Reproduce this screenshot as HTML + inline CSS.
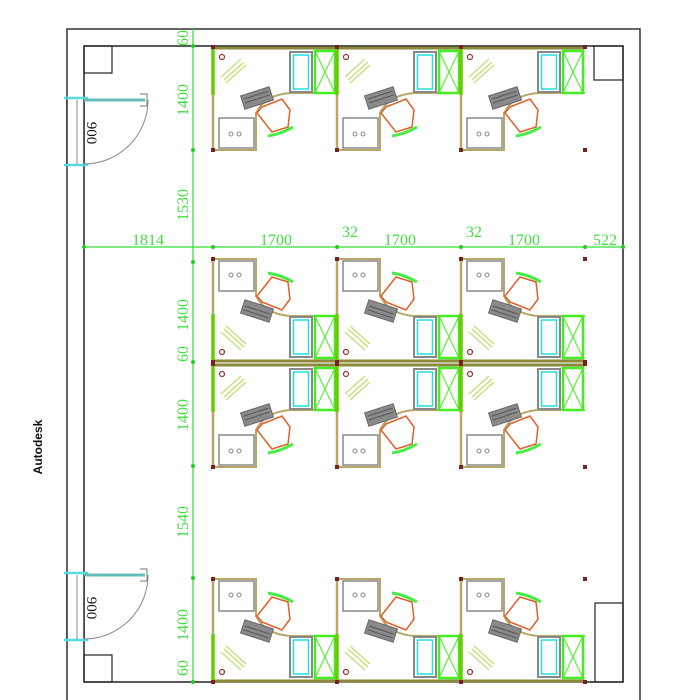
<!DOCTYPE html>
<html><head><style>html,body{margin:0;padding:0;background:#fff}svg{display:block}</style></head>
<body>
<svg width="700" height="700" viewBox="0 0 700 700" xmlns="http://www.w3.org/2000/svg" font-family="Liberation Serif, serif">
<defs>
<g id="cell">
  <line x1="0" y1="1" x2="124" y2="1" stroke="#8a8a3a" stroke-width="3"/>
  <line x1="0" y1="0" x2="0" y2="48" stroke="#66cc00" stroke-width="3.5"/>
  <line x1="0" y1="48" x2="0" y2="103" stroke="#b8a868" stroke-width="2.5"/>
  <path d="M124,46 L77,46 Q52,48 43,66 L43,103 L0,103" fill="none" stroke="#b8a868" stroke-width="2"/>
  <rect x="77" y="5" width="22" height="40" fill="#fff" stroke="#888" stroke-width="2"/>
  <rect x="80.5" y="8" width="15" height="34" fill="none" stroke="#22dddd" stroke-width="1.5"/>
  <rect x="102" y="4" width="20" height="42" fill="#fff" stroke="#44ee22" stroke-width="2.5"/>
  <path d="M102,4 L122,46 M122,4 L102,46" stroke="#44ee22" stroke-width="1"/>
  <rect x="6" y="71" width="35" height="30" fill="#fff" stroke="#888" stroke-width="1.5"/>
  <circle cx="18" cy="87" r="2" fill="none" stroke="#888"/>
  <circle cx="26" cy="87" r="2" fill="none" stroke="#888"/>
  <circle cx="9" cy="10" r="2.5" fill="none" stroke="#993333" stroke-width="1.2"/>
  <path d="M8,30 L28,12 M11,33 L31,15 M13,36 L33,18" stroke="#c8e080" stroke-width="1.5"/>
  <g transform="translate(44,51) rotate(-18)">
    <rect x="-15" y="-7" width="30" height="14" fill="#8a8a8a" stroke="#666"/>
    <path d="M-13,-3 H13 M-13,1 H13" stroke="#555" stroke-width="1"/>
  </g>
  <path d="M49,60 L69,52 L77,63 L75,80 L59,85 L44,66 Z" fill="#fff" stroke="#e0602a" stroke-width="1.5"/>
  <path d="M55,89 Q68,87 80,80" fill="none" stroke="#44ee44" stroke-width="3"/>
  <rect x="-2" y="-2" width="4" height="4" fill="#772222"/>
  <rect x="122" y="-2" width="4" height="4" fill="#772222"/>
  <rect x="-2" y="101" width="4" height="4" fill="#772222"/>
  <rect x="122" y="101" width="4" height="4" fill="#772222"/>
</g>
</defs>
<!-- walls -->
<path d="M67,700 V29 H640 V700" fill="none" stroke="#333" stroke-width="1.5"/>
<path d="M84,46 H623 V682 H84 Z" fill="none" stroke="#222" stroke-width="1.5"/>
<rect x="84" y="46" width="28" height="27" fill="none" stroke="#222" stroke-width="1.2"/>
<rect x="594" y="46" width="29" height="34" fill="none" stroke="#222" stroke-width="1.2"/>
<rect x="84" y="655" width="28" height="27" fill="none" stroke="#222" stroke-width="1.2"/>
<rect x="595" y="603" width="28" height="79" fill="none" stroke="#222" stroke-width="1.2"/>
<!-- doors -->
<g id="door">
  <rect x="67" y="99" width="17" height="66" fill="#fff"/>
  <line x1="67" y1="99" x2="67" y2="165" stroke="#333" stroke-width="1.5"/>
  <line x1="84" y1="99" x2="84" y2="165" stroke="#333" stroke-width="1.5"/>
  <path d="M64,98 H88 M64,165 H88" stroke="#55dddd" stroke-width="2.5"/>
  <line x1="84" y1="100" x2="145" y2="100" stroke="#66bbbb" stroke-width="3"/>
  <path d="M140,94 H147 V106 H140" fill="none" stroke="#777" stroke-width="1"/>
  <path d="M148,100 A64,64 0 0 1 84,164" fill="none" stroke="#888" stroke-width="1"/>
  <line x1="77" y1="100" x2="77" y2="164" stroke="#888" stroke-width="1"/>
  <text transform="translate(87,133) rotate(90)" text-anchor="middle" font-size="15" fill="#111">900</text>
</g>
<use href="#door" transform="translate(0,475)"/>
<!-- cubicles -->
<g>
  <use href="#cell" transform="translate(213,47)"/>
  <use href="#cell" transform="translate(337,47)"/>
  <use href="#cell" transform="translate(461,47)"/>
  <use href="#cell" transform="translate(213,362) scale(1,-1)"/>
  <use href="#cell" transform="translate(337,362) scale(1,-1)"/>
  <use href="#cell" transform="translate(461,362) scale(1,-1)"/>
  <use href="#cell" transform="translate(213,364)"/>
  <use href="#cell" transform="translate(337,364)"/>
  <use href="#cell" transform="translate(461,364)"/>
  <use href="#cell" transform="translate(213,682) scale(1,-1)"/>
  <use href="#cell" transform="translate(337,682) scale(1,-1)"/>
  <use href="#cell" transform="translate(461,682) scale(1,-1)"/>
</g>
<!-- dimensions -->
<g stroke="#33dd33" stroke-width="1.2">
  <line x1="193" y1="29" x2="193" y2="684"/>
  <line x1="84" y1="247" x2="625" y2="247"/>
</g>
<g fill="#22cc22">
  <circle cx="193" cy="46" r="2"/><circle cx="193" cy="150" r="2"/><circle cx="193" cy="262" r="2"/>
  <circle cx="193" cy="362" r="2"/><circle cx="193" cy="466" r="2"/><circle cx="193" cy="578" r="2"/><circle cx="193" cy="682" r="2"/>
  <circle cx="84" cy="247" r="2"/><circle cx="213" cy="247" r="2"/><circle cx="337" cy="247" r="2"/>
  <circle cx="461" cy="247" r="2"/><circle cx="585" cy="247" r="2"/><circle cx="623" cy="247" r="2"/>
</g>
<g fill="#44dd44" font-size="16" text-anchor="middle">
  <text transform="translate(188,38) rotate(-90)">60</text>
  <text transform="translate(188,100) rotate(-90)">1400</text>
  <text transform="translate(188,205) rotate(-90)">1530</text>
  <text transform="translate(188,315) rotate(-90)">1400</text>
  <text transform="translate(188,354) rotate(-90)">60</text>
  <text transform="translate(188,415) rotate(-90)">1400</text>
  <text transform="translate(188,522) rotate(-90)">1540</text>
  <text transform="translate(188,625) rotate(-90)">1400</text>
  <text transform="translate(188,668) rotate(-90)">60</text>
  <text x="148" y="245">1814</text>
  <text x="276" y="245">1700</text>
  <text x="350" y="237">32</text>
  <text x="400" y="245">1700</text>
  <text x="474" y="237">32</text>
  <text x="524" y="245">1700</text>
  <text x="605" y="245">522</text>
</g>
<text transform="translate(42,447) rotate(-90)" text-anchor="middle" font-family="Liberation Sans, sans-serif" font-weight="bold" font-size="12" fill="#111">Autodesk</text>
</svg>
</body></html>
